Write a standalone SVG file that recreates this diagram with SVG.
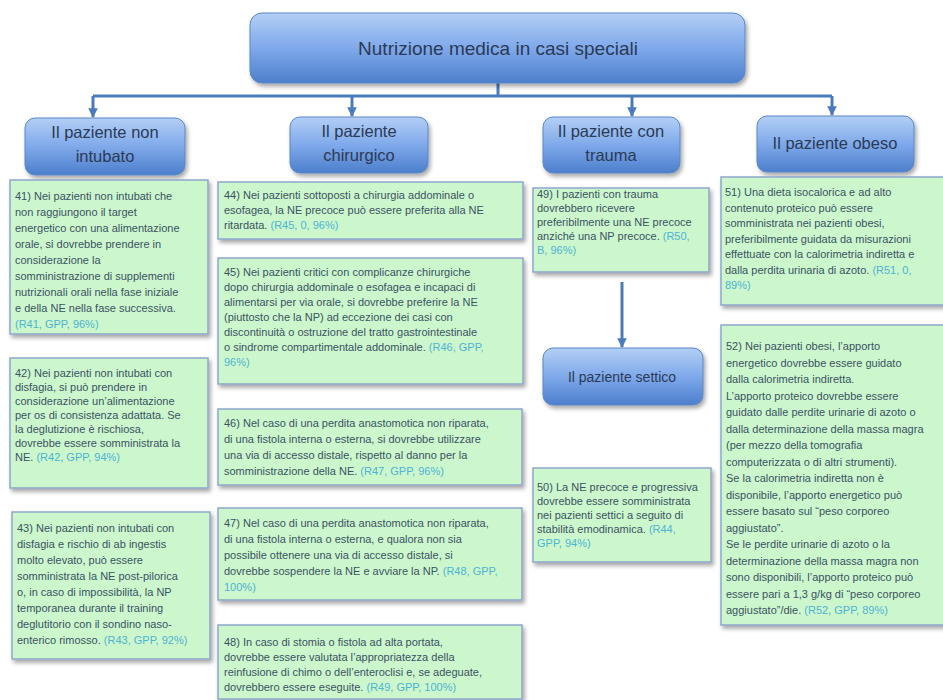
<svg xmlns="http://www.w3.org/2000/svg" width="943" height="700" viewBox="0 0 943 700">
  <defs>
    <linearGradient id="blueGrad" x1="0" y1="0" x2="0" y2="1">
      <stop offset="0" stop-color="#b3cff6"/>
      <stop offset="0.5" stop-color="#7fa9ea"/>
      <stop offset="1" stop-color="#4c7fcc"/>
    </linearGradient>
    <filter id="shadow" x="-10%" y="-10%" width="130%" height="140%">
      <feDropShadow dx="2" dy="3" stdDeviation="2" flood-color="#000" flood-opacity="0.35"/>
    </filter>
    <marker id="arrow" viewBox="0 0 10 10" refX="9" refY="5" markerWidth="3.2" markerHeight="3.2" orient="auto">
      <path d="M0,0 L10,5 L0,10 z" fill="#4a7bbd"/>
    </marker>
  </defs>
  <style>
    .head rect { fill: url(#blueGrad); stroke: #5a86c6; stroke-width: 1; filter: url(#shadow); }
    .head text { font-family: "Liberation Sans", Arial, sans-serif; fill: #2b3a55; text-anchor: middle; }
    .note rect { fill: #ccf7cc; stroke: #8ea6cc; stroke-width: 1.5; filter: url(#shadow); }
    .note text { font-family: "Liberation Sans", Arial, sans-serif; font-size: 11px; fill: #3a5264; }
    .ref { fill: #4db3d3; }
    .conn path { fill: none; stroke: #4a7bbd; stroke-width: 3; }
  </style>
  <rect width="943" height="700" fill="#ffffff"/>

  <!-- connectors -->
  <g id="connectors" class="conn">
    <path d="M498,83 V96"/>
    <path d="M93,96 H832"/>
    <path d="M93,96 V117" marker-end="url(#arrow)"/>
    <path d="M352,96 V116" marker-end="url(#arrow)"/>
    <path d="M632,96 V116" marker-end="url(#arrow)"/>
    <path d="M832,96 V115" marker-end="url(#arrow)"/>
    <path d="M622,282 V347" marker-end="url(#arrow)"/>
  </g>

  <!-- title -->
  <g id="title" class="head">
    <rect x="250" y="13" width="495" height="70" rx="12"/>
    <text x="498" y="55" font-size="19">Nutrizione  medica in casi speciali</text>
  </g>

  <!-- category headers -->
  <g id="non-intubato" class="head">
    <rect x="25" y="118" width="160" height="57" rx="10"/>
    <text x="105" y="138" font-size="16.5">Il paziente non</text>
    <text x="105" y="162" font-size="16.5">intubato</text>
  </g>
  <g id="chirurgico" class="head">
    <rect x="290" y="117" width="138" height="56" rx="10"/>
    <text x="359" y="137" font-size="16.5">Il paziente</text>
    <text x="359" y="161" font-size="16.5">chirurgico</text>
  </g>
  <g id="trauma" class="head">
    <rect x="543" y="117" width="137" height="56" rx="10"/>
    <text x="611" y="137" font-size="16.5">Il paziente con</text>
    <text x="611" y="161" font-size="16.5">trauma</text>
  </g>
  <g id="obeso" class="head">
    <rect x="757" y="116" width="157" height="56" rx="10"/>
    <text x="835" y="149" font-size="16.5">Il paziente obeso</text>
  </g>
  <g id="settico" class="head">
    <rect x="543" y="348" width="160" height="57" rx="10"/>
    <text x="622" y="382" font-size="14">Il paziente settico</text>
  </g>

  <!-- recommendations: non intubato -->
  <g id="r41" class="note">
    <rect x="10" y="180" width="198" height="154"/>
    <text x="15" y="200">
      <tspan x="15">41) Nei pazienti non intubati che</tspan>
      <tspan x="15" dy="16">non raggiungono il target</tspan>
      <tspan x="15" dy="16">energetico con una alimentazione</tspan>
      <tspan x="15" dy="16">orale, si dovrebbe prendere in</tspan>
      <tspan x="15" dy="16">considerazione la</tspan>
      <tspan x="15" dy="16">somministrazione di supplementi</tspan>
      <tspan x="15" dy="16">nutrizionali orali nella fase iniziale</tspan>
      <tspan x="15" dy="16">e della NE nella fase successiva.</tspan>
      <tspan x="15" dy="16" class="ref">(R41, GPP, 96%)</tspan>
    </text>
  </g>
  <g id="r42" class="note">
    <rect x="10" y="358" width="198" height="130"/>
    <text x="15" y="377">
      <tspan x="15">42) Nei pazienti non intubati con</tspan>
      <tspan x="15" dy="14">disfagia, si può prendere in</tspan>
      <tspan x="15" dy="14">considerazione un’alimentazione</tspan>
      <tspan x="15" dy="14">per os di consistenza adattata. Se</tspan>
      <tspan x="15" dy="14">la deglutizione è rischiosa,</tspan>
      <tspan x="15" dy="14">dovrebbe essere somministrata la</tspan>
      <tspan x="15" dy="14">NE. <tspan class="ref">(R42, GPP, 94%)</tspan></tspan>
    </text>
  </g>
  <g id="r43" class="note">
    <rect x="12" y="512" width="198" height="147"/>
    <text x="17" y="532">
      <tspan x="17">43) Nei pazienti non intubati con</tspan>
      <tspan x="17" dy="16">disfagia e rischio di ab ingestis</tspan>
      <tspan x="17" dy="16">molto elevato, può essere</tspan>
      <tspan x="17" dy="16">somministrata la NE post-pilorica</tspan>
      <tspan x="17" dy="16">o, in caso di impossibilità, la NP</tspan>
      <tspan x="17" dy="16">temporanea durante il training</tspan>
      <tspan x="17" dy="16">deglutitorio con il sondino naso-</tspan>
      <tspan x="17" dy="16">enterico rimosso. <tspan class="ref">(R43, GPP, 92%)</tspan></tspan>
    </text>
  </g>

  <!-- recommendations: chirurgico -->
  <g id="r44" class="note">
    <rect x="218" y="182" width="305" height="57"/>
    <text x="224" y="199">
      <tspan x="224">44) Nei pazienti sottoposti a chirurgia addominale o</tspan>
      <tspan x="224" dy="15">esofagea, la NE precoce può essere preferita alla NE</tspan>
      <tspan x="224" dy="15">ritardata. <tspan class="ref">(R45, 0, 96%)</tspan></tspan>
    </text>
  </g>
  <g id="r45" class="note">
    <rect x="218" y="258" width="305" height="126"/>
    <text x="224" y="276">
      <tspan x="224">45) Nei pazienti critici con complicanze chirurgiche</tspan>
      <tspan x="224" dy="15">dopo chirurgia addominale o esofagea e incapaci di</tspan>
      <tspan x="224" dy="15">alimentarsi per via orale, si dovrebbe preferire la NE</tspan>
      <tspan x="224" dy="15">(piuttosto che la NP) ad eccezione dei casi con</tspan>
      <tspan x="224" dy="15">discontinuità o ostruzione del tratto gastrointestinale</tspan>
      <tspan x="224" dy="15">o sindrome compartimentale addominale. <tspan class="ref">(R46, GPP,</tspan></tspan>
      <tspan x="224" dy="15" class="ref">96%)</tspan>
    </text>
  </g>
  <g id="r46" class="note">
    <rect x="218" y="409" width="304" height="76"/>
    <text x="224" y="427">
      <tspan x="224">46) Nel caso di una perdita anastomotica non riparata,</tspan>
      <tspan x="224" dy="16">di una fistola interna o esterna, si dovrebbe utilizzare</tspan>
      <tspan x="224" dy="16">una via di accesso distale, rispetto al danno per la</tspan>
      <tspan x="224" dy="16">somministrazione della NE. <tspan class="ref">(R47, GPP, 96%)</tspan></tspan>
    </text>
  </g>
  <g id="r47" class="note">
    <rect x="218" y="508" width="304" height="92"/>
    <text x="224" y="527">
      <tspan x="224">47) Nel caso di una perdita anastomotica non riparata,</tspan>
      <tspan x="224" dy="16">di una fistola interna o esterna, e qualora non sia</tspan>
      <tspan x="224" dy="16">possibile ottenere  una via di accesso distale, si</tspan>
      <tspan x="224" dy="16">dovrebbe sospendere la NE e avviare la NP. <tspan class="ref">(R48, GPP,</tspan></tspan>
      <tspan x="224" dy="16" class="ref">100%)</tspan>
    </text>
  </g>
  <g id="r48" class="note">
    <rect x="218" y="625" width="304" height="74"/>
    <text x="224" y="646">
      <tspan x="224">48) In caso di stomia o fistola ad alta portata,</tspan>
      <tspan x="224" dy="15">dovrebbe essere valutata l’appropriatezza della</tspan>
      <tspan x="224" dy="15">reinfusione di chimo o dell’enteroclisi e, se adeguate,</tspan>
      <tspan x="224" dy="15">dovrebbero essere eseguite. <tspan class="ref">(R49, GPP, 100%)</tspan></tspan>
    </text>
  </g>

  <!-- recommendations: trauma / settico -->
  <g id="r49" class="note">
    <rect x="533" y="188" width="176" height="84"/>
    <text x="537" y="198">
      <tspan x="537">49) I pazienti con trauma</tspan>
      <tspan x="537" dy="14">dovrebbero ricevere</tspan>
      <tspan x="537" dy="14">preferibilmente una NE  precoce</tspan>
      <tspan x="537" dy="14">anziché una NP precoce. <tspan class="ref">(R50,</tspan></tspan>
      <tspan x="537" dy="14" class="ref">B, 96%)</tspan>
    </text>
  </g>
  <g id="r50" class="note">
    <rect x="533" y="468" width="178" height="94"/>
    <text x="537" y="491">
      <tspan x="537">50) La NE precoce e progressiva</tspan>
      <tspan x="537" dy="14">dovrebbe essere somministrata</tspan>
      <tspan x="537" dy="14">nei pazienti settici a seguito di</tspan>
      <tspan x="537" dy="14">stabilità emodinamica. <tspan class="ref">(R44,</tspan></tspan>
      <tspan x="537" dy="14" class="ref">GPP, 94%)</tspan>
    </text>
  </g>

  <!-- recommendations: obeso -->
  <g id="r51" class="note">
    <rect x="721" y="177" width="230" height="128"/>
    <text x="725" y="196">
      <tspan x="725">51) Una dieta isocalorica e ad alto</tspan>
      <tspan x="725" dy="15.5">contenuto  proteico può essere</tspan>
      <tspan x="725" dy="15.5">somministrata nei pazienti obesi,</tspan>
      <tspan x="725" dy="15.5">preferibilmente guidata da misurazioni</tspan>
      <tspan x="725" dy="15.5">effettuate  con la calorimetria indiretta e</tspan>
      <tspan x="725" dy="15.5">dalla perdita urinaria di azoto. <tspan class="ref">(R51, 0,</tspan></tspan>
      <tspan x="725" dy="15.5" class="ref">89%)</tspan>
    </text>
  </g>
  <g id="r52" class="note">
    <rect x="721" y="325" width="230" height="300"/>
    <text x="726" y="350">
      <tspan x="726">52) Nei pazienti obesi, l’apporto</tspan>
      <tspan x="726" dy="16.5">energetico dovrebbe essere guidato</tspan>
      <tspan x="726" dy="16.5">dalla calorimetria indiretta.</tspan>
      <tspan x="726" dy="16.5">L’apporto proteico dovrebbe essere</tspan>
      <tspan x="726" dy="16.5">guidato dalle perdite urinarie di azoto o</tspan>
      <tspan x="726" dy="16.5">dalla determinazione della massa magra</tspan>
      <tspan x="726" dy="16.5">(per mezzo  della tomografia</tspan>
      <tspan x="726" dy="16.5">computerizzata o di altri strumenti).</tspan>
      <tspan x="726" dy="16.5">Se la calorimetria indiretta non è</tspan>
      <tspan x="726" dy="16.5">disponibile, l’apporto energetico può</tspan>
      <tspan x="726" dy="16.5">essere basato sul “peso corporeo</tspan>
      <tspan x="726" dy="16.5">aggiustato”.</tspan>
      <tspan x="726" dy="16.5">Se le perdite urinarie di azoto o la</tspan>
      <tspan x="726" dy="16.5">determinazione della massa magra non</tspan>
      <tspan x="726" dy="16.5">sono disponibili, l’apporto proteico può</tspan>
      <tspan x="726" dy="16.5">essere pari a 1,3 g/kg di “peso corporeo</tspan>
      <tspan x="726" dy="16.5">aggiustato”/die. <tspan class="ref">(R52, GPP, 89%)</tspan></tspan>
    </text>
  </g>
</svg>
